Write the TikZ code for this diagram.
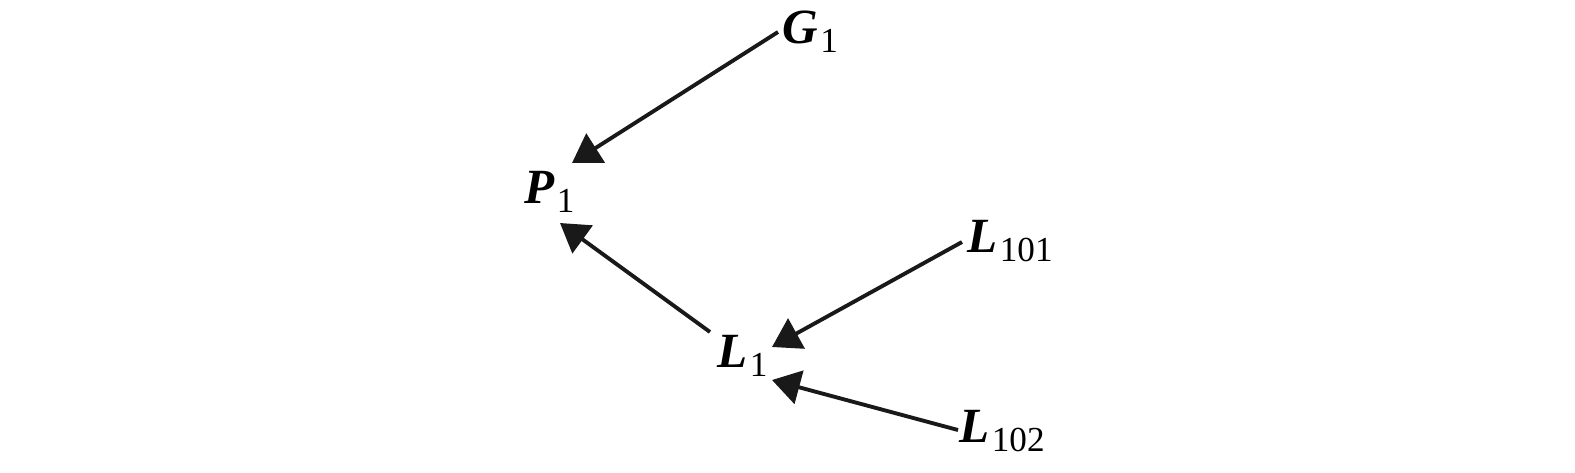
\documentclass[tikz,border=0pt]{standalone}
\usepackage{fontspec}
\setmainfont{Liberation Serif}
\usetikzlibrary{arrows.meta}
\newcommand{\varsub}[2]{{\fontsize{14pt}{15pt}\selectfont\bfseries\itshape #1}\kern0.6pt\raisebox{-0.9mm}{\fontsize{10pt}{11pt}\selectfont #2}}
\tikzset{
  var/.style={inner sep=0pt, anchor=base west},
  link/.style={line width=1.1pt, draw=black!90, -{Triangle[length=2.8mm,width=3.4mm]}}
}
\begin{document}
\begin{tikzpicture}[x=0.1mm,y=-0.1mm]
\useasboundingbox (0,0) rectangle (1575,472);
\node[var] (G1) at (782,43) {\varsub{G}{1}};
\node[var] (P1) at (524,203) {\varsub{P}{1}};
\node[var] (L1) at (717,367) {\varsub{L}{1}};
\node[var] (L101) at (967,252) {\varsub{L}{101}};
\node[var] (L102) at (959,442) {\varsub{L}{102}};
\coordinate (g1out) at (778,32);
\coordinate (p1inA) at (572,163);
\coordinate (l1out) at (710,332);
\coordinate (p1inB) at (560,223);
\coordinate (l101out) at (962,242);
\coordinate (l1inA) at (772,347);
\coordinate (l102out) at (958,430);
\coordinate (l1inB) at (772,380);
\draw[link] (g1out) -- (p1inA);
\draw[link] (l1out) -- (p1inB);
\draw[link] (l101out) -- (l1inA);
\draw[link] (l102out) -- (l1inB);
\end{tikzpicture}
\end{document}
